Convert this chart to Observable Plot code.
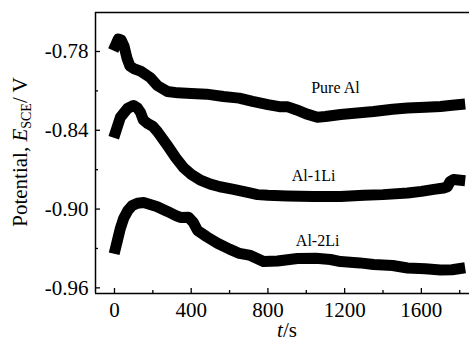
<!DOCTYPE html>
<html><head><meta charset="utf-8">
<script src="https://cdn.jsdelivr.net/npm/d3@7"></script>
<script src="https://cdn.jsdelivr.net/npm/@observablehq/plot@0.6"></script>
<style>
body{margin:0;background:#fff}
#chart{position:relative;width:469px;height:343px;overflow:hidden}
#chart svg text{font-family:"Liberation Serif","Times New Roman",serif}
</style>
</head><body><div id="chart"></div>
<script>
// Pure Al
const pureT = [5,20,35,50,65,80,100,136,188,224,276,330,400,480,568,650,720,800,860,900,950,1000,1058,1100,1179,1250,1351,1450,1528,1620,1700,1760,1800];
const pureV = [-0.7754,-0.7705,-0.7712,-0.776,-0.785,-0.791,-0.793,-0.795,-0.800,-0.806,-0.8105,-0.8115,-0.812,-0.8125,-0.8143,-0.8155,-0.818,-0.8205,-0.822,-0.822,-0.8245,-0.8275,-0.830,-0.8295,-0.828,-0.827,-0.8257,-0.824,-0.823,-0.8225,-0.8219,-0.821,-0.8204];
// Al-1Li
const li1T = [5,31,68,99,120,136,150,172,200,224,276,320,360,400,448,500,550,621,700,746,800,900,1038,1100,1179,1300,1400,1528,1600,1665,1716,1735,1750,1768,1800];
const li1V = [-0.8417,-0.830,-0.8234,-0.8211,-0.823,-0.8265,-0.832,-0.8348,-0.837,-0.841,-0.8516,-0.861,-0.8684,-0.8735,-0.878,-0.881,-0.883,-0.885,-0.8875,-0.889,-0.8895,-0.890,-0.8904,-0.8905,-0.8904,-0.8895,-0.889,-0.8877,-0.8865,-0.885,-0.884,-0.883,-0.879,-0.8775,-0.878];
// Al-2Li
const li2T = [5,15,30,48,70,93,120,152,220,276,320,344,386,410,433,480,537,600,652,709,777,850,954,1050,1126,1179,1280,1351,1450,1528,1620,1700,1760,1800];
const li2V = [-0.930,-0.924,-0.915,-0.907,-0.901,-0.8973,-0.8955,-0.895,-0.898,-0.9018,-0.905,-0.9064,-0.9062,-0.910,-0.9163,-0.921,-0.926,-0.9305,-0.9338,-0.9353,-0.940,-0.9395,-0.9376,-0.9375,-0.9384,-0.940,-0.941,-0.9422,-0.943,-0.9449,-0.9455,-0.9464,-0.9462,-0.9453];

const seriesNames = ["Pure Al", "Al-1Li", "Al-2Li"];
const labelT = [1152, 1038, 1059];
const labelV = [-0.8074, -0.8744, -0.9239];

const xMajor = [0, 400, 800, 1200, 1600];
const xMinor = [200, 600, 1000, 1400, 1800];
const yMajor = [-0.96, -0.90, -0.84, -0.78];
const yMinor = [-0.93, -0.87, -0.81];
const xDomain = [-99, 1851];
const yDomain = [-0.9643, -0.7503];

const seriesT = [pureT, li1T, li2T];
const seriesV = [pureV, li1V, li2V];
const rows = [];
seriesNames.forEach((s, i) => seriesT[i].forEach((t, j) => rows.push({s, t, v: seriesV[i][j]})));
const labels = seriesNames.map((s, i) => ({s, t: labelT[i], v: labelV[i]}));

const font = "Liberation Serif";
const plot = Plot.plot({
  width: 469, height: 343,
  marginLeft: 95, marginRight: 0, marginTop: 12, marginBottom: 50,
  style: {fontFamily: font, background: "#fff", color: "#000", overflow: "visible"},
  x: {domain: xDomain},
  y: {domain: yDomain},
  marks: [
    Plot.line(rows, {x: "t", y: "v", z: "s", stroke: "#000", strokeWidth: 11, strokeLinecap: "square", strokeLinejoin: "round"}),
    Plot.text(labels, {x: "t", y: "v", text: "s", fontSize: 16, fontFamily: font, fill: "#000"}),
    Plot.ruleY([yDomain[0], yDomain[1]], {stroke: "#000", strokeWidth: 1.5}),
    Plot.ruleX([xDomain[0]], {stroke: "#000", strokeWidth: 1.5}),
    Plot.axisX(xMajor, {tickSize: -5, tickPadding: 14, fontSize: 21, fontFamily: font, label: null, tickFormat: d => String(d), strokeWidth: 1.3}),
    Plot.axisX(xMinor, {tickSize: -3, text: null, label: null, strokeWidth: 1.3}),
    Plot.axisY(yMajor, {tickSize: -5, tickPadding: 12, fontSize: 21, fontFamily: font, label: null, tickFormat: d => d.toFixed(2), strokeWidth: 1.3}),
    Plot.axisY(yMinor, {tickSize: -3, text: null, label: null, strokeWidth: 1.3})
  ]
});
document.getElementById("chart").appendChild(plot);

const svg = d3.select(plot);
const yl = svg.append("text")
  .attr("transform", "translate(27,152) rotate(-90)")
  .attr("text-anchor", "middle")
  .attr("font-family", font).attr("font-size", 21).attr("fill", "#000");
yl.append("tspan").text("Potential, ");
yl.append("tspan").attr("font-style", "italic").text("E");
yl.append("tspan").attr("font-size", 14).attr("dy", 4).text("SCE");
yl.append("tspan").attr("dy", -4).text("/ V");

const xl = svg.append("text")
  .attr("x", 287).attr("y", 337)
  .attr("text-anchor", "middle")
  .attr("font-family", font).attr("font-size", 21).attr("fill", "#000");
xl.append("tspan").attr("font-style", "italic").text("t");
xl.append("tspan").text("/s");
</script>
</body></html>
